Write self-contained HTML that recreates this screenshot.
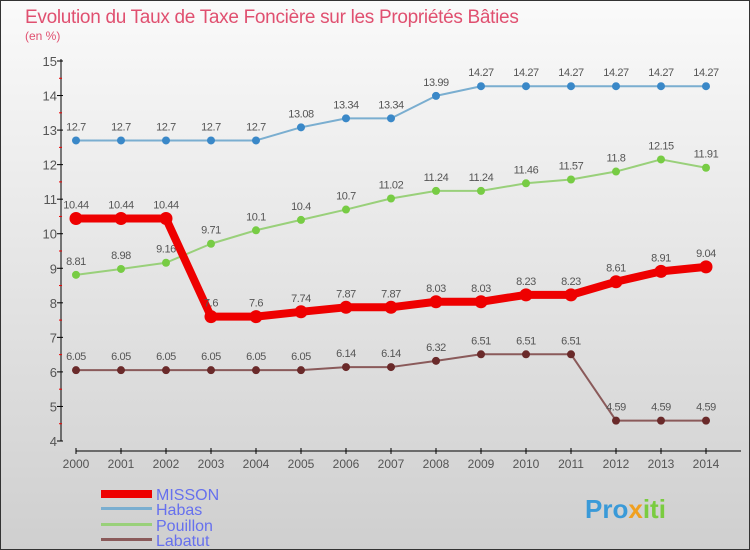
<!DOCTYPE html>
<html><head><meta charset="utf-8"><style>
body{margin:0}
#c{width:748px;height:548px;border:1px solid #333;background:linear-gradient(#fafafa,#cfcfcf);position:relative;font-family:"Liberation Sans",sans-serif}
</style></head><body>
<div id="c">
<svg width="748" height="548" id="s" style="position:absolute;left:0;top:0">
<text x="24" y="22" font-size="19" fill="#e05070" font-weight="normal" letter-spacing="-0.3">Evolution du Taux de Taxe Foncière sur les Propriétés Bâties</text>
<text x="24" y="39" font-size="12" fill="#e05070">(en %)</text>
<g id="g"></g>
<g>
<rect x="100" y="489" width="51" height="8" fill="#e00"/>
<text x="155" y="499" font-size="16" fill="#6670ee">MISSON</text>
<rect x="100" y="506" width="51" height="3" fill="#7aaed0"/>
<text x="155" y="514" font-size="16" fill="#6670ee">Habas</text>
<rect x="100" y="522" width="51" height="3" fill="#99d07a"/>
<text x="155" y="530" font-size="16" fill="#6670ee">Pouillon</text>
<rect x="100" y="537" width="51" height="3" fill="#8a5a5a"/>
<text x="155" y="545" font-size="16" fill="#6670ee">Labatut</text>
</g>
<text x="584" y="517" font-size="26" font-weight="600" fill="#3a9ad8">Pro<tspan fill="#f0a020">x</tspan><tspan fill="#7acc40">iti</tspan></text>
</svg>
</div>
<script>
const years=[2000,2001,2002,2003,2004,2005,2006,2007,2008,2009,2010,2011,2012,2013,2014];
const yTicks=[4,5,6,7,8,9,10,11,12,13,14,15];
const misson=[10.44,10.44,10.44,7.6,7.6,7.74,7.87,7.87,8.03,8.03,8.23,8.23,8.61,8.91,9.04];
const habas=[12.7,12.7,12.7,12.7,12.7,13.08,13.34,13.34,13.99,14.27,14.27,14.27,14.27,14.27,14.27];
const pouillon=[8.81,8.98,9.16,9.71,10.1,10.4,10.7,11.02,11.24,11.24,11.46,11.57,11.8,12.15,11.91];
const labatut=[6.05,6.05,6.05,6.05,6.05,6.05,6.14,6.14,6.32,6.51,6.51,6.51,4.59,4.59,4.59];
const X=i=>75+i*45, Y=v=>60+(15-v)*34.545;
const NS="http://www.w3.org/2000/svg", g=document.getElementById('g');
function mk(t,a){const e=document.createElementNS(NS,t);for(const k in a)e.setAttribute(k,a[k]);g.appendChild(e);return e;}
let e=mk('line',{x1:60,y1:58,x2:60,y2:440,stroke:'#000'});


e=mk('line',{x1:75,y1:450,x2:740,y2:450,stroke:'#000'});


yTicks.forEach(v=>{
 let t=mk('line',{x1:56,x2:62,y1:Y(v),y2:Y(v),stroke:'#000'});
 
 
 if(v<15){let h=mk('line',{x1:58,x2:61,y1:Y(v+0.5),y2:Y(v+0.5),stroke:'#e00'});
 
 }
 let l=mk('text',{x:56,y:Y(v)+5,'font-size':13,fill:'#555','text-anchor':'end'});l.textContent=v;
 
 
});
years.forEach((yr,i)=>{
 let t=mk('line',{x1:X(i),x2:X(i),y1:447,y2:453,stroke:'#000'});
 
 
 let l=mk('text',{x:X(i),y:467,'font-size':12,fill:'#555','text-anchor':'middle'});l.textContent=yr;
 
 
});
function series(d,name,col,w,dot,dotc){
 let p=mk('polyline',{points:d.map((v,i)=>X(i)+','+Y(v)).join(' '),fill:'none',stroke:col,'stroke-width':w,'stroke-linejoin':'round'});
 
 
 d.forEach((v,i)=>{
  let c=mk('circle',{cx:X(i),cy:Y(v),r:dot,fill:dotc});
  
  
  let t=mk('text',{x:X(i),y:Y(v)-10,'font-size':11,fill:'#555','text-anchor':'middle','letter-spacing':'-0.4'});t.textContent=v;
  
  
 });
}
series(habas,'habas','#7aaed0',2,4,'#3a88c8');
series(pouillon,'pouillon','#99d07a',2,4,'#77cc44');
series(labatut,'labatut','#8a5a5a',2,4,'#6a2a2a');
series(misson,'misson','#e00',8,6.5,'#e00');
</script>
</body></html>
